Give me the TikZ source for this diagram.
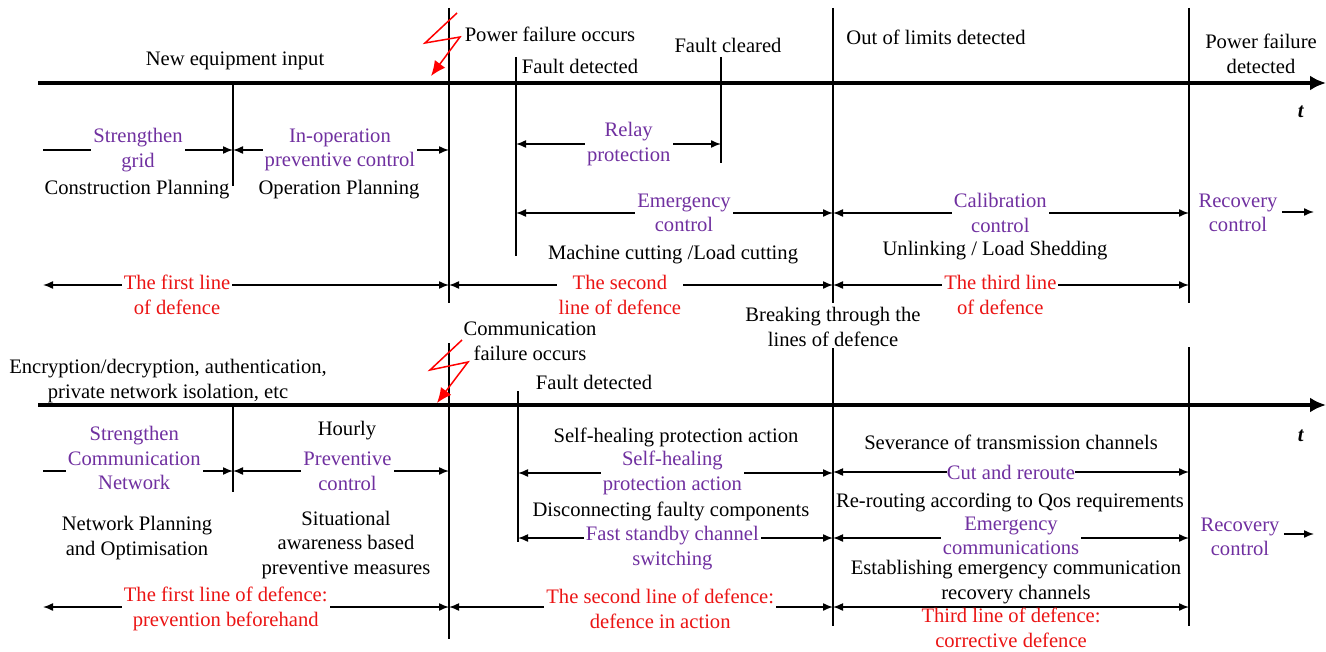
\documentclass[tikz,border=0pt]{standalone}
\usepackage{fontspec}
\setmainfont{Liberation Serif}
\usepackage{tikz}
\usetikzlibrary{arrows.meta}
\definecolor{ctlpurple}{RGB}{112,48,160}
\definecolor{dfnred}{RGB}{235,20,20}

\begin{document}
\begin{tikzpicture}[x=0.5pt, y=-0.5pt,
  every node/.style={font=\fontsize{10.3}{12.3}\selectfont, align=center, inner sep=1pt},
  axis/.style={line width=2pt, -{Latex[length=8pt, width=7.5pt]}},
  mark line/.style={line width=0.8pt},
  arr/.style={line width=0.75pt, -{Latex[length=5pt, width=4pt]}},
  darr/.style={line width=0.75pt, {Latex[length=5pt, width=4pt]}-{Latex[length=5pt, width=4pt]}},
  bolt/.style={draw=red, line width=0.75pt, -{Latex[length=7.5pt, width=6.5pt]}},
  lbl/.style={text=black},
  ctl/.style={text=ctlpurple, fill=white, inner ysep=0pt},
  dfn/.style={text=dfnred, fill=white, inner ysep=0pt}]
\useasboundingbox (0,0) rectangle (1326,652);

% ---------- power system (top) ----------
\coordinate (pax0) at (38,83);
\coordinate (pax1) at (1326,83);
\draw[axis] (pax0) -- (pax1);
\node (pt) at (1301,112) {\textbf{\textit{t}}};

\coordinate (pv1a) at (449,8);    \coordinate (pv1b) at (449,303);
\coordinate (pv2a) at (233,83);   \coordinate (pv2b) at (233,186);
\coordinate (pv3a) at (516,57);   \coordinate (pv3b) at (516,256);
\coordinate (pv4a) at (721,57);   \coordinate (pv4b) at (721,163);
\coordinate (pv5a) at (833,8);    \coordinate (pv5b) at (833,303);
\coordinate (pv6a) at (1189,8);   \coordinate (pv6b) at (1189,303);
\foreach \v in {pv1,pv2,pv3,pv4,pv5,pv6}
  \draw[mark line] (\v a) -- (\v b);

% lightning
\coordinate (pb1) at (457,13);
\coordinate (pb2) at (425,43);
\coordinate (pb3) at (460,37);
\coordinate (pb4) at (431,76);
\draw[bolt] (pb1) -- (pb2) -- (pb3) -- (pb4);

% arrows
\coordinate (pa0) at (43,150);  \coordinate (pa1) at (233,150); \coordinate (pa2) at (449,150);
\coordinate (pr0) at (516,144); \coordinate (pr1) at (721,144);
\coordinate (pe0) at (516,213); \coordinate (pe1) at (833,213); \coordinate (pe2) at (1189,213);
\coordinate (pd0) at (43,285);  \coordinate (pd1) at (449,285);
\coordinate (pd2) at (833,285); \coordinate (pd3) at (1189,285);

\draw[arr] (pa0) -- node[ctl] (grid) {Strengthen\\grid} (pa1);
\draw[darr] (pa1) -- node[ctl, pos=0.495] (inop) {In-operation\\preventive control} (pa2);
\draw[darr] (pr0) -- node[ctl, pos=0.55] (relay) {Relay\\protection} (pr1);
\draw[darr] (pe0) -- node[ctl, pos=0.53] (emc) {Emergency\\control} (pe1);
\draw[darr] (pe1) -- node[ctl, pos=0.47] (calc) {Calibration\\control} (pe2);
\draw[darr] (pd0) -- node[dfn, pos=0.33, yshift=-5pt] (pdf1) {The first line\\of defence} (pd1);
\draw[darr] (pd1) -- node[dfn, pos=0.445, yshift=-5pt] (pdf2) {The second\\line of defence} (pd2);
\draw[darr] (pd2) -- node[dfn, pos=0.47, yshift=-5pt] (pdf3) {The third line\\of defence} (pd3);

\node[text=ctlpurple] (prec) at (1238,213) {Recovery\\control};
\coordinate (prec1) at (1314,212);
\draw[arr] (prec.east |- prec1) ++(2,0) -- (prec1);

% labels
\node[lbl] (newin) at (235,61) {New equipment input};
\node[lbl] (pfo) at (550,34) {Power failure occurs};
\node[lbl] (pfd) at (580,66) {Fault detected};
\node[lbl] (pfc) at (728,45) {Fault cleared};
\node[lbl] (olim) at (936,37) {Out of limits detected};
\node[lbl] (pfdet) at (1261,54) {Power failure\\detected};
\node[lbl] (cplan) at (137,190) {Construction Planning};
\node[lbl] (oplan) at (339,190) {Operation Planning};
\node[lbl] (mcut) at (673,255) {Machine cutting /Load cutting};
\node[lbl] (unlink) at (995,251) {Unlinking / Load Shedding};
\node[lbl] (brk) at (833,327) {Breaking through the\\lines of defence};

% ---------- communication system (bottom) ----------
\coordinate (cax0) at (38,405);
\coordinate (cax1) at (1326,405);
\draw[axis] (cax0) -- (cax1);
\node (ct) at (1301,436) {\textbf{\textit{t}}};

\coordinate (cv1a) at (449,343);  \coordinate (cv1b) at (449,639);
\coordinate (cv2a) at (233,405);  \coordinate (cv2b) at (233,492);
\coordinate (cv3a) at (518,391);  \coordinate (cv3b) at (518,542);
\coordinate (cv4a) at (833,348);  \coordinate (cv4b) at (833,626);
\coordinate (cv5a) at (1189,347); \coordinate (cv5b) at (1189,626);
\foreach \v in {cv1,cv2,cv3,cv4,cv5}
  \draw[mark line] (\v a) -- (\v b);

% lightning
\coordinate (cb1) at (462,340);
\coordinate (cb2) at (430,370);
\coordinate (cb3) at (468,362);
\coordinate (cb4) at (437,403);
\draw[bolt] (cb1) -- (cb2) -- (cb3) -- (cb4);

% arrows
\coordinate (ca0) at (43,471);  \coordinate (ca1) at (233,471); \coordinate (ca2) at (449,471);
\coordinate (cs0) at (518,473); \coordinate (cs1) at (833,473);
\coordinate (cr0) at (833,472); \coordinate (cr1) at (1189,472);
\coordinate (cf0) at (518,538); \coordinate (cf1) at (833,538); \coordinate (cf2) at (1189,538);
\coordinate (cd0) at (43,607);  \coordinate (cd1) at (449,607);
\coordinate (cd2) at (833,607); \coordinate (cd3) at (1189,607);

\draw[arr] (ca0) -- node[ctl, pos=0.48, yshift=6.5pt] (scn) {Strengthen\\Communication\\Network} (ca1);
\draw[darr] (ca1) -- node[ctl, pos=0.53] (prev) {Preventive\\control} (ca2);
\draw[darr] (cs0) -- node[ctl, pos=0.49] (shp) {Self-healing\\protection action} (cs1);
\draw[darr] (cf0) -- node[ctl, pos=0.49, yshift=-5pt] (fsc) {Fast standby channel\\switching} (cf1);
\draw[darr] (cr0) -- node[ctl, inner xsep=0pt] (cut) {Cut and reroute} (cr1);
\draw[darr] (cf1) -- node[ctl, pos=0.5, yshift=1pt] (emcom) {Emergency\\communications} (cf2);
\draw[darr] (cd0) -- node[dfn, pos=0.45, yshift=-1pt] (cdf1) {The first line of defence:\\prevention beforehand} (cd1);
\draw[darr] (cd1) -- node[dfn, pos=0.55, yshift=-1pt] (cdf2) {The second line of defence:\\defence in action} (cd2);
\draw[darr] (cd2) -- node[dfn, pos=0.5, yshift=-10.5pt] (cdf3) {Third line of defence:\\corrective defence} (cd3);

\node[text=ctlpurple] (crec) at (1240,537) {Recovery\\control};
\coordinate (crec1) at (1314,534);
\draw[arr] (crec.east |- crec1) ++(2,0) -- (crec1);

% labels
\node[lbl] (enc) at (168,381) {Encryption/decryption, authentication,\\private network isolation, etc};
\node[lbl] (cfo) at (530,341) {Communication\\failure occurs};
\node[lbl] (cfd) at (594,382) {Fault detected};
\node[lbl] (hour) at (347,431) {Hourly};
\node[lbl] (nplan) at (137,538) {Network Planning\\and Optimisation};
\node[lbl] (situ) at (346,545) {Situational\\awareness based\\preventive measures};
\node[lbl] (shpa) at (676,437) {Self-healing protection action};
\node[lbl] (disc) at (671,511) {Disconnecting faulty components};
\node[lbl] (sev) at (1011,442) {Severance of transmission channels};
\node[lbl] (rerou) at (1010,503) {Re-routing according to Qos requirements};
\node[lbl] (estab) at (1016,582) {Establishing emergency communication\\recovery channels};
\end{tikzpicture}
\end{document}
